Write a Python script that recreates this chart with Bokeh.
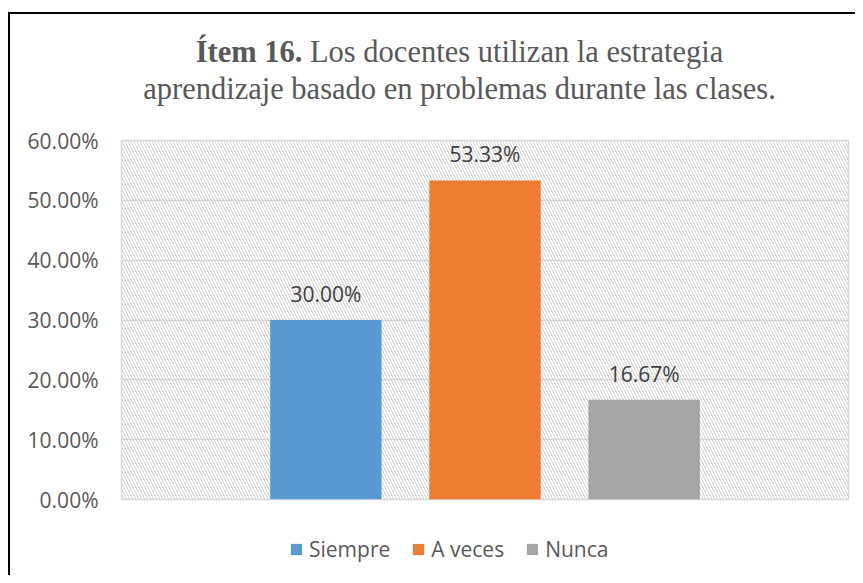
from bokeh.plotting import figure
from bokeh.models import (FactorRange, Range1d, NumeralTickFormatter, FixedTicker,
                          BoxAnnotation, Label, Legend, LegendItem, ColumnDataSource, Column)
from bokeh.embed import file_html
from bokeh.resources import INLINE
from bokeh.core.properties import value

# ---- data ----
categories = ["Siempre", "A veces", "Nunca"]
values = [0.30, 0.5333, 0.1667]
value_labels = ["30.00%", "53.33%", "16.67%"]
colors = ["#5B9BD5", "#ED7D31", "#A5A5A5"]
y_ticks = [0.0, 0.1, 0.2, 0.3, 0.4, 0.5, 0.6]
title_bold = "Ítem 16."
title_line1 = "Los docentes utilizan la estrategia"
title_line2 = "aprendizaje basado en problemas durante las clases."

src = ColumnDataSource(dict(cat=categories, val=values, lab=value_labels, color=colors))

W = 845
TEXT = "#595959"
SANS = "Open Sans"
FRAME_W, FRAME_H = 727, 359
LEFT, RIGHT = 111, 7
TOP_PAD, BOT_PAD = 20, 20
T_H = 106
B_H = 575 - 14 - T_H - (TOP_PAD + FRAME_H + BOT_PAD)

def bare(fig):
    fig.outline_line_color = None
    fig.background_fill_color = "white"
    fig.border_fill_color = "white"
    fig.grid.visible = False
    fig.min_border_top = 0
    fig.min_border_bottom = 0
    fig.min_border_left = LEFT
    fig.min_border_right = RIGHT
    return fig

# ---- title strip (frame aligned with the chart frame) ----
t_top = 14
t = bare(figure(width=W, height=T_H, frame_width=FRAME_W,
                x_range=Range1d(121, 121 + FRAME_W), y_range=Range1d(t_top + T_H, t_top),
                output_backend="svg", toolbar_location=None,
                x_axis_location=None, y_axis_location=None))
fs = 30.5
bold_w = 3.499 * fs      # Liberation Serif Bold advance of "Ítem 16."
space_w = 0.25 * fs
norm_w = 13.553 * fs     # advance of the regular part of line 1
cx = 459
x0 = cx - (bold_w + space_w + norm_w) / 2
y1, y2 = 51, 88
t.add_layout(Label(x=x0, y=y1, text=title_bold, text_font="Liberation Serif",
                   text_font_size=f"{fs}px", text_font_style="bold",
                   text_color=TEXT, text_baseline="alphabetic"))
t.add_layout(Label(x=x0 + bold_w + space_w, y=y1, text=title_line1,
                   text_font="Liberation Serif", text_font_size=f"{fs}px",
                   text_color=TEXT, text_baseline="alphabetic"))
t.add_layout(Label(x=cx, y=y2, text=title_line2, text_font="Liberation Serif",
                   text_font_size=f"{fs}px", text_color=TEXT,
                   text_baseline="alphabetic", text_align="center"))

# ---- main chart ----
p = figure(width=W, height=TOP_PAD + FRAME_H + BOT_PAD, frame_width=FRAME_W, frame_height=FRAME_H,
           x_range=FactorRange(factors=categories, range_padding=0.523),
           y_range=Range1d(0, 0.6),
           output_backend="svg", toolbar_location=None, x_axis_location=None,
           min_border_left=LEFT, min_border_right=RIGHT,
           min_border_top=TOP_PAD, min_border_bottom=BOT_PAD)
p.background_fill_color = "white"
p.border_fill_color = "white"
p.outline_line_color = "#D9D9D9"
p.outline_line_width = 1.5

p.add_layout(BoxAnnotation(fill_color=None, line_color=None,
                           hatch_pattern="left_diagonal_line", hatch_color="#D0D0D0",
                           hatch_scale=6, hatch_weight=1, level="underlay"))

ax = p.yaxis[0]
ax.ticker = FixedTicker(ticks=y_ticks)
ax.formatter = NumeralTickFormatter(format="0.00%")
ax.axis_line_color = None
ax.major_tick_line_color = None
ax.major_tick_out = 0
ax.major_tick_in = 0
ax.minor_tick_line_color = None
ax.major_label_standoff = 23
ax.major_label_text_font = SANS
ax.major_label_text_font_size = "21px"
ax.major_label_text_color = TEXT

p.ygrid.grid_line_color = "#D9D9D9"
p.ygrid.grid_line_width = 1.5
p.ygrid.ticker = FixedTicker(ticks=y_ticks)
p.xgrid.visible = False

p.vbar(x="cat", top="val", width=0.70, fill_color="color", line_color=None, source=src)
p.text(x="cat", y="val", text="lab", source=src, y_offset=-26,
       text_align="center", text_baseline="alphabetic",
       text_font=value(SANS), text_font_size="21px", text_color="#404040")

# ---- legend strip ----
b = bare(figure(width=W, height=B_H, frame_width=FRAME_W,
                x_range=FactorRange(factors=categories),
                y_range=Range1d(1, 2), output_backend="svg", toolbar_location=None,
                x_axis_location=None, y_axis_location=None))
lb = b.vbar(x="cat", top="val", width=0.70, fill_color="color", line_color=None, source=src)
legend = Legend(items=[LegendItem(label=c, renderers=[lb], index=i) for i, c in enumerate(categories)],
                orientation="horizontal", location=(168, 12),
                glyph_width=14, glyph_height=14, label_standoff=6, spacing=21,
                padding=0, margin=0, border_line_color=None, background_fill_alpha=0,
                label_text_font=SANS, label_text_font_size="21px",
                label_text_color=TEXT)
b.add_layout(legend)

layout = Column(children=[t, p, b], spacing=0, margin=(12, 0, 0, 8),
                styles={"border-top": "2px solid black", "border-left": "2px solid black"})

open("out.html", "w").write(file_html(layout, INLINE))
